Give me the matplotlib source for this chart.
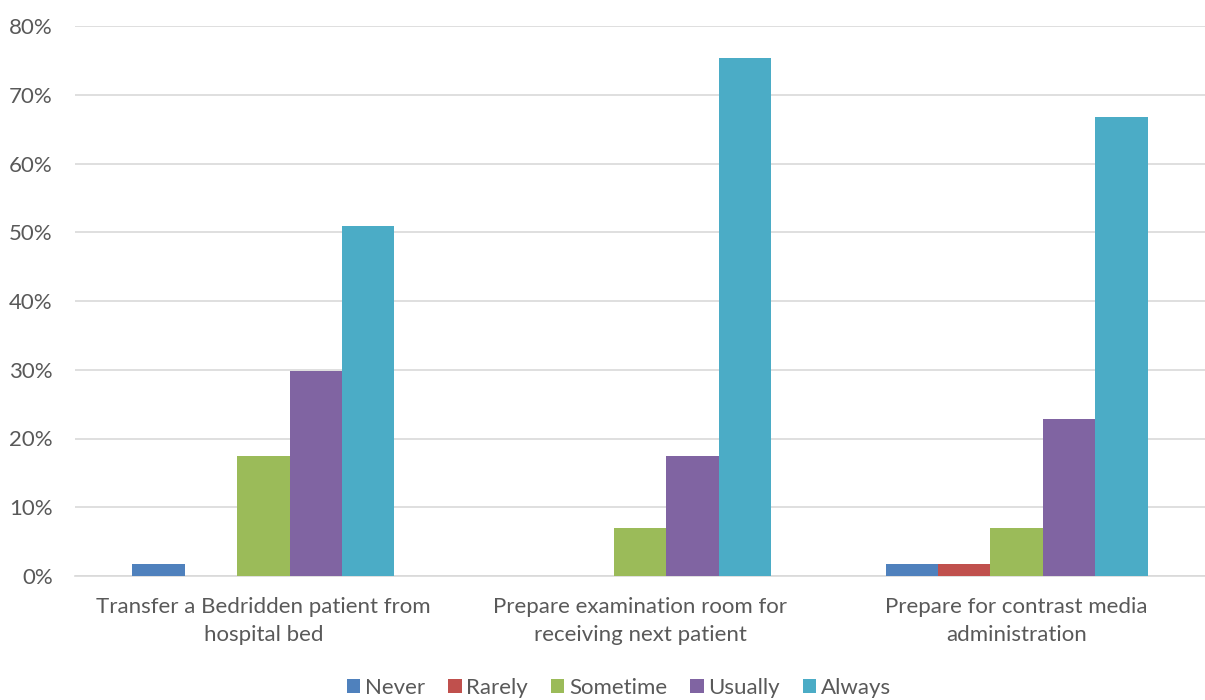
import matplotlib
matplotlib.use("Agg")
import matplotlib.pyplot as plt
import numpy as np

categories = [
    "Transfer a Bedridden patient from\nhospital bed",
    "Prepare examination room for\nreceiving next patient",
    "Prepare for contrast media\nadministration",
]
series_names = ["Never", "Rarely", "Sometime", "Usually", "Always"]
never = [1.75, 0.0, 1.75]
rarely = [0.0, 0.0, 1.75]
sometime = [17.5, 7.0, 7.0]
usually = [29.8, 17.5, 22.8]
always = [50.9, 75.4, 66.7]
yticks = [0, 10, 20, 30, 40, 50, 60, 70, 80]

COLORS = ["#4F81BD", "#C0504D", "#9BBB59", "#8064A2", "#4BACC6"]
TEXT = "#595959"

plt.rcParams["font.family"] = ["Lato", "DejaVu Sans"]

fig = plt.figure(figsize=(12.05, 7.0), dpi=100)
ax = fig.add_axes([75 / 1205, 124 / 700, 1130 / 1205, 550 / 700])

x = np.arange(len(categories))
width = 0.139
all_series = [never, rarely, sometime, usually, always]
for i, (name, vals) in enumerate(zip(series_names, all_series)):
    offs = (i - 2) * width
    ax.bar(x + offs, vals, width, color=COLORS[i], label=name, zorder=3)

ax.set_xlim(-0.5, 2.5)
ax.set_ylim(0, 80)
ax.set_yticks(yticks)
ax.set_yticklabels([f"{t}%" for t in yticks], fontsize=16, color=TEXT)
ax.set_xticks(x)
ax.set_xticklabels(categories, fontsize=16, color=TEXT, linespacing=1.5)
ax.tick_params(axis="both", length=0)
ax.tick_params(axis="y", pad=16)
ax.tick_params(axis="x", pad=15)
ax.grid(axis="y", color="#D9D9D9", linewidth=1.2, zorder=0)
for s in ["top", "right", "left"]:
    ax.spines[s].set_visible(False)
ax.spines["bottom"].set_color("#D9D9D9")
ax.spines["bottom"].set_linewidth(1.2)

leg = fig.legend(
    loc="center", bbox_to_anchor=(619 / 1205, 1 - 688 / 700),
    ncol=5, frameon=False, fontsize=16, handlelength=0.6, handleheight=0.6,
    handletextpad=0.2, columnspacing=1.05,
)
for t in leg.get_texts():
    t.set_color(TEXT)

fig.savefig("out.png", dpi=100, facecolor="white")
